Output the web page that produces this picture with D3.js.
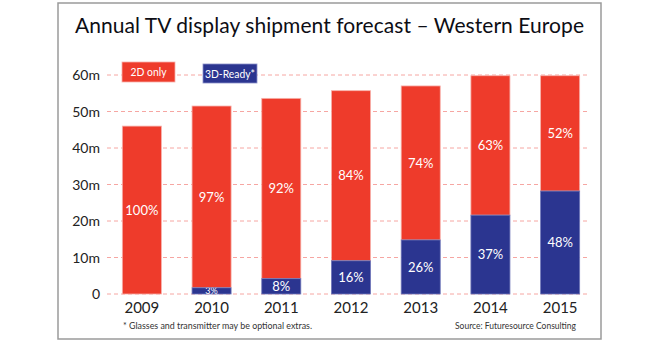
<!DOCTYPE html>
<html>
<head>
<meta charset="utf-8">
<script src="https://cdn.jsdelivr.net/npm/d3@7"></script>
<style>
  body { margin: 0; background: #fff; }
  text { font-family: Lato, "Open Sans", sans-serif; }
</style>
</head>
<body>
<svg id="chart" width="660" height="342"></svg>
<script>
// data (millions of units)
var years = ["2009", "2010", "2011", "2012", "2013", "2014", "2015"];
var total = [46.0, 51.5, 53.6, 55.7, 57.0, 59.8, 59.8];
var ready3D = [0, 1.7, 4.2, 9.1, 14.8, 21.6, 28.2];
var pct2D = ["100%", "97%", "92%", "84%", "74%", "63%", "52%"];
var pct3D = ["", "3%", "8%", "16%", "26%", "37%", "48%"];
var yTicks = [0, 10, 20, 30, 40, 50, 60];
var seriesNames = ["2D only", "3D-Ready*"];

var RED = "#ee3b2b", BLUE = "#2b3590";

var svg = d3.select("#chart");

//frame
svg.append("rect")
  .attr("x", 58).attr("y", 3).attr("width", 543).attr("height", 336)
  .attr("fill", "#fff").attr("stroke", "#9a9a9a").attr("stroke-width", 1.5);

svg.append("text")
  .attr("x", 75).attr("y", 33)
  .attr("font-size", 21).attr("fill", "#0d0d14")
  .attr("textLength", 509).attr("lengthAdjust", "spacing")
  .text("Annual TV display shipment forecast \u2013 Western Europe");

var y = d3.scaleLinear().domain([0, 60]).range([294, 75]);
var x = d3.scaleBand().domain(years).range([107, 595]).paddingInner(0.44).paddingOuter(0.22);

var rows = years.map(function(yr, i){
  return {year: yr, total: total[i], d3: ready3D[i], p2: pct2D[i], p3: pct3D[i]};
});

//grid
svg.append("g").selectAll("line").data(yTicks).join("line")
  .attr("x1", 107).attr("x2", 588)
  .attr("y1", function(d){ return y(d); }).attr("y2", function(d){ return y(d); })
  .attr("stroke", "#f6a6a2").attr("stroke-width", 1).attr("stroke-dasharray", "4,3");

//y labels
svg.append("g").selectAll("text").data(yTicks).join("text")
  .attr("x", 100).attr("y", function(d){ return y(d); }).attr("dy", "0.36em")
  .attr("text-anchor", "end").attr("font-size", 14).attr("fill", "#222")
  .text(function(d){ return d === 0 ? "0" : d + "m"; });

var defs = svg.append("defs");
rows.forEach(function(r, i){
  defs.append("clipPath").attr("id", "clip3d" + i)
    .append("rect")
    .attr("x", x(r.year)).attr("width", x.bandwidth())
    .attr("y", y(r.d3)).attr("height", y(0) - y(r.d3));
});

var bars = svg.append("g").selectAll("g").data(rows).join("g");

bars.append("rect")
  .attr("x", function(d){ return x(d.year); })
  .attr("width", x.bandwidth())
  .attr("y", function(d){ return y(d.total); })
  .attr("height", function(d){ return y(d.d3) - y(d.total); })
  .attr("fill", RED).attr("stroke", "#f7b0aa").attr("stroke-width", 0.8);

bars.filter(function(d){ return d.d3 > 0; }).append("rect")
  .attr("x", function(d){ return x(d.year); })
  .attr("width", x.bandwidth())
  .attr("y", function(d){ return y(d.d3); })
  .attr("height", function(d){ return y(0) - y(d.d3); })
  .attr("fill", BLUE).attr("stroke", "#6f76b8").attr("stroke-width", 0.8);

bars.append("text")
  .attr("x", function(d){ return x(d.year) + x.bandwidth() / 2; })
  .attr("y", function(d){ return (y(d.total) + y(d.d3)) / 2; })
  .attr("dy", "0.36em").attr("text-anchor", "middle")
  .attr("font-size", 13).attr("fill", "#fff")
  .text(function(d){ return d.p2; });

bars.filter(function(d){ return d.d3 > 0; }).append("text")
  .attr("clip-path", function(d){ return "url(#clip3d" + years.indexOf(d.year) + ")"; })
  .attr("x", function(d){ return x(d.year) + x.bandwidth() / 2; })
  .attr("y", function(d){ return (y(d.d3) + y(0)) / 2; })
  .attr("dy", "0.36em").attr("text-anchor", "middle")
  .attr("font-size", function(d){ return d.d3 < 3 ? 9 : 13; })
  .attr("fill", "#fff")
  .text(function(d){ return d.p3; });

//x labels
svg.append("g").selectAll("text").data(years).join("text")
  .attr("x", function(d){ return x(d) + x.bandwidth() / 2; })
  .attr("y", 313).attr("text-anchor", "middle")
  .attr("font-size", 15).attr("fill", "#222")
  .text(function(d){ return d; });

//legend
var legend = [
  {name: seriesNames[0], color: RED, x: 122, y: 62, w: 53, h: 20, tw: 36},
  {name: seriesNames[1], color: BLUE, x: 203, y: 64, w: 54, h: 19, tw: 50}
];
var lg = svg.append("g").selectAll("g").data(legend).join("g");
lg.append("rect")
  .attr("x", function(d){ return d.x; }).attr("y", function(d){ return d.y; })
  .attr("width", function(d){ return d.w; }).attr("height", function(d){ return d.h; })
  .attr("fill", function(d){ return d.color; })
  .attr("stroke", function(d){ return d.color === RED ? "#f7b0aa" : "#8a90c8"; }).attr("stroke-width", 0.8);
lg.append("text")
  .attr("x", function(d){ return d.x + d.w / 2; })
  .attr("y", function(d){ return d.y + d.h / 2; })
  .attr("dy", "0.36em").attr("text-anchor", "middle")
  .attr("font-size", 12).attr("fill", "#fff")
  .attr("textLength", function(d){ return d.tw; }).attr("lengthAdjust", "spacingAndGlyphs")
  .text(function(d){ return d.name; });

//notes
svg.append("text")
  .attr("x", 123).attr("y", 329)
  .attr("font-size", 9.5).attr("fill", "#333")
  .attr("textLength", 189).attr("lengthAdjust", "spacingAndGlyphs")
  .text("* Glasses and transmitter may be optional extras.");
svg.append("text")
  .attr("x", 455).attr("y", 329)
  .attr("font-size", 9.5).attr("fill", "#333")
  .attr("textLength", 121).attr("lengthAdjust", "spacingAndGlyphs")
  .text("Source: Futuresource Consulting");
</script>
</body>
</html>
